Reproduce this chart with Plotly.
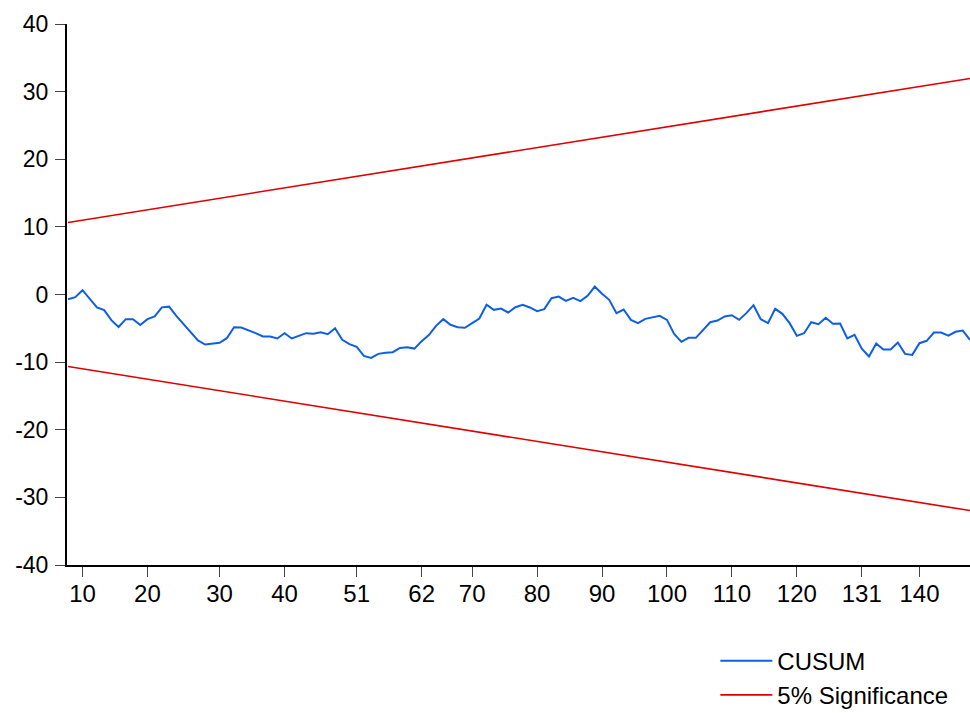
import plotly.graph_objects as go

# CUSUM values (one per observation, in order)
cusum = [-0.7, -0.4, 0.64, -0.6, -1.9, -2.3, -3.8, -4.8, -3.65, -3.65,
         -4.5, -3.65, -3.25, -1.9, -1.8, -3.15, -4.35, -5.6, -6.8, -7.4,
         -7.25, -7.15, -6.46, -4.83, -4.88, -5.28, -5.72, -6.2, -6.2, -6.5,
         -5.72, -6.5, -6.1, -5.72, -5.8, -5.57, -5.87, -4.98, -6.7, -7.35,
         -7.74, -9.07, -9.37, -8.78, -8.6, -8.53, -7.9, -7.8, -8.0, -6.9,
         -6.0, -4.63, -3.65, -4.48, -4.83, -4.93, -4.24, -3.55, -1.52, -2.27,
         -2.07, -2.66, -1.88, -1.53, -1.92, -2.46, -2.17, -0.54, -0.3, -0.94,
         -0.5, -0.98, -0.2, 1.18, 0.1, -0.79, -2.76, -2.22, -3.75, -4.24,
         -3.6, -3.35, -3.16, -3.75, -5.82, -7.0, -6.41, -6.41, -5.33, -4.1,
         -3.85, -3.25, -3.06, -3.75, -2.76, -1.58, -3.65, -4.24, -2.12, -2.86,
         -4.24, -6.11, -5.72, -4.1, -4.4, -3.45, -4.34, -4.29, -6.5, -5.97,
         -8.0, -9.17, -7.25, -8.14, -8.14, -7.1, -8.78, -8.93, -7.2, -6.85,
         -5.62, -5.62, -6.07, -5.52, -5.33, -6.7]

# 5% significance bounds at first and last observation (straight lines)
upper_bound = [10.65, 31.95]
lower_bound = [-10.65, -31.95]

# x-axis tick labels and the observation index where each falls
tick_text = ["10", "20", "30", "40", "51", "62", "70", "80", "90", "100",
             "110", "120", "131", "140"]
tick_index = [2, 11, 21, 30, 40, 49, 56, 65, 74, 83, 92, 101, 110, 118]

y_ticks = [40, 30, 20, 10, 0, -10, -20, -30, -40]
y_tick_text = ["40", "30", "20", "10", "0", "-10", "-20", "-30", "-40"]

obs = list(range(len(cusum)))
ends = [obs[0], obs[-1]]

BLUE = "#0F5FE3"
RED = "#E00000"
FONT = "Liberation Sans, Arial, sans-serif"

fig = go.Figure()
fig.add_trace(go.Scatter(x=obs, y=cusum, mode="lines", name="CUSUM",
                         line=dict(color=BLUE, width=2)))
fig.add_trace(go.Scatter(x=ends, y=upper_bound, mode="lines", name="5% Significance",
                         line=dict(color=RED, width=1.6)))
fig.add_trace(go.Scatter(x=ends, y=lower_bound, mode="lines", name="5% Significance",
                         line=dict(color=RED, width=1.6), showlegend=False))

fig.update_layout(
    width=970, height=713,
    margin=dict(l=67, r=0, t=24, b=148, autoexpand=False),
    paper_bgcolor="white", plot_bgcolor="white",
    font=dict(family=FONT, size=24, color="black"),
    showlegend=True,
    legend=dict(x=0.718, y=-0.136, xanchor="left", yanchor="top",
                bgcolor="rgba(0,0,0,0)", font=dict(size=24, family=FONT),
                itemwidth=52, tracegroupgap=0),
    xaxis=dict(range=[-0.15, obs[-1]], tickmode="array", tickvals=tick_index,
               ticktext=tick_text, showgrid=False, zeroline=False,
               showline=True, linecolor="black", linewidth=2,
               ticks="outside", ticklen=10, tickcolor="#444", tickwidth=1,
               ticklabelstandoff=-4, tickfont=dict(size=24)),
    yaxis=dict(range=[-40, 40], tickmode="array", tickvals=y_ticks,
               ticktext=y_tick_text, showgrid=False, zeroline=False,
               showline=True, linecolor="black", linewidth=2,
               ticks="outside", ticklen=10, tickcolor="#444", tickwidth=1,
               ticklabelstandoff=2, tickfont=dict(size=23)),
)

# remove the browser's default 8px body margin so the figure fills the window
fig.write_html("out.html", config={"displayModeBar": False},
               post_script="document.body.style.margin='0';")
